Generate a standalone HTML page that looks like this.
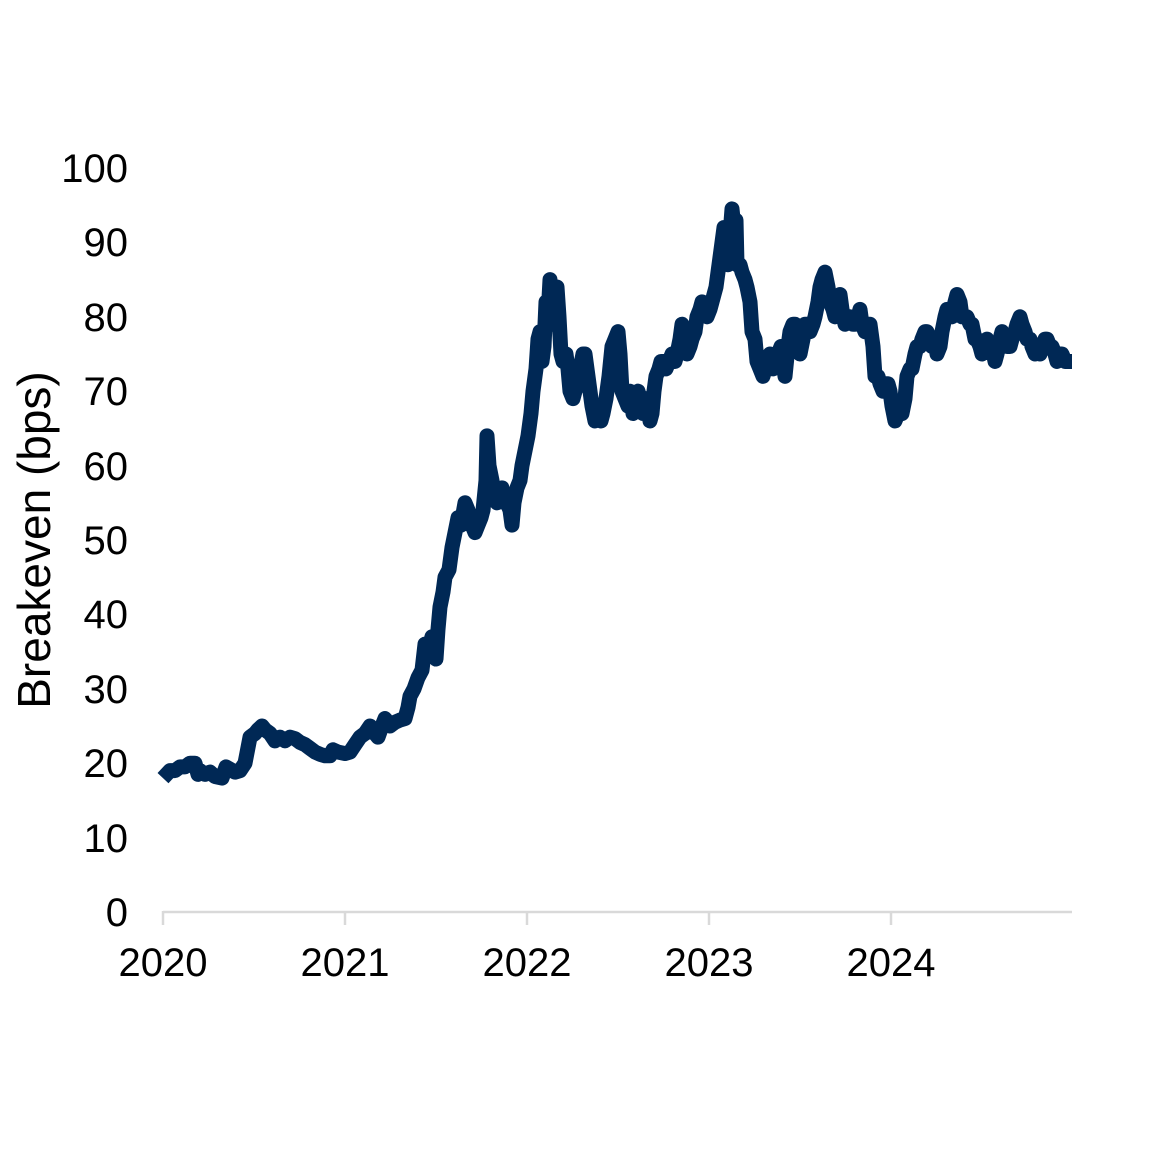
<!DOCTYPE html>
<html><head><meta charset="utf-8"><style>
html,body{margin:0;padding:0;background:#fff;}
svg{display:block;font-family:"Liberation Sans",Arial,sans-serif;}
</style></head><body>
<svg width="1155" height="1155" viewBox="0 0 1155 1155" xmlns="http://www.w3.org/2000/svg">
<rect width="1155" height="1155" fill="#fff"/>
<g font-size="40" fill="#000" text-anchor="end">
<text x="128" y="926">0</text>
<text x="128" y="852">10</text>
<text x="128" y="777">20</text>
<text x="128" y="703">30</text>
<text x="128" y="628">40</text>
<text x="128" y="554">50</text>
<text x="128" y="480">60</text>
<text x="128" y="405">70</text>
<text x="128" y="331">80</text>
<text x="128" y="256">90</text>
<text x="128" y="182">100</text>
</g>
<text transform="translate(50,540) rotate(-90)" font-size="46" text-anchor="middle">Breakeven (bps)</text>
<g font-size="40" text-anchor="middle">
<text x="163" y="976">2020</text>
<text x="345" y="976">2021</text>
<text x="527" y="976">2022</text>
<text x="709" y="976">2023</text>
<text x="891" y="976">2024</text>
</g>
<g stroke="#d9d9d9" stroke-width="2.5" fill="none">
<line x1="163" y1="912" x2="1072" y2="912"/>
<line x1="163" y1="911" x2="163" y2="925"/>
<line x1="345" y1="911" x2="345" y2="925"/>
<line x1="527" y1="911" x2="527" y2="925"/>
<line x1="709" y1="911" x2="709" y2="925"/>
<line x1="891" y1="911" x2="891" y2="925"/>
</g>
<g transform="matrix(1,0,0,-7.44,0,912)">
<polyline vector-effect="non-scaling-stroke" fill="none" stroke="#002855" stroke-width="15" stroke-linejoin="round" stroke-linecap="butt" points="
163,18 170,19 175,19 180,19.5 185,19.5 190,20 195,20 198,18.5 200,19 205,18.5 210,18.8 215,18.2 222,18 226,19.5 230,19.2 235,18.8 240,19 245,20 250,23.5 255,24 258,24.5 262,25 265,24.5 270,24 275,23 280,23.5 285,23 290,23.5 295,23.3 300,22.8 305,22.5 310,22 315,21.5 320,21.2 325,21 330,21 333,21.8 338,21.5 345,21.3 350,21.5 355,22.5 360,23.5 365,24 370,25 375,24 378,23.5 382,25 385,26 390,25 395,25.5 400,25.8 405,26 408,27.5 410,29 414,30 418,31.5 422,32.5 425,36 428,35 432,37 434,35.5 436,34 438,38 440,41 443,43 445,45 449,46 452,49 455,51 458,53 461,52 465,55 468,54 472,52 475,51 478,52 481,53 483,54 486,58 487,64 489,60 492,58 494,56 497,55 500,56 502,57 505,55 507,55 510,54 512,52 514,55 517,57 520,58 522,60 525,62 528,64 531,67 533,70 536,73 538,77 540,78 542,74 544,76 546,82 548,80 550,85 552,81 553,79 555,82 557,84 559,80 561,75 563,74 566,75 568,73 570,70 573,69 575,70 578,71 580,73 583,75 585,75 587,73 590,70 592,68 595,66 598,67 601,66 603,67 606,69 609,72 612,76 615,77 618,78 620,75 622,70 625,69 628,68 630,70 633,67 636,69 638,70 640,69 643,67 646,69 648,68 650,66 652,67 654,70 656,72 659,73 661,74 664,74 666,73 669,74 672,75 675,74 677,75 680,77 682,79 685,77 687,75 690,76 692,77 695,78 697,80 700,81 702,82 705,81 707,80 710,81 712,82 714,83 716,84 718,86 720,88 722,90 724,92 726,89 728,87 730,91 732,94.5 734,92 736,93 737,87 740,87 742,86 745,85 747,84 750,82 752,78 755,77 757,74 760,73 763,72 765,73 768,74 770,75 773,73 775,74 778,75 781,76 783,74 785,72 788,76 790,78 793,79 795,79 798,77 800,75 803,77 805,79 808,79 810,78 813,79 815,80 818,82 820,84 822,85 825,86 828,84 830,82 833,81 835,80 838,82 840,83 842,81 845,79 848,80 850,80 853,79 855,79 858,80 860,81 862,79 865,78 868,79 870,79 873,76 875,72 878,72 880,71 883,70 885,71 888,71 890,70 892,68 895,66 898,67 900,67 902,67 905,69 907,72 910,73 912,73 915,75 917,76 920,76 922,77 925,78 927,78 930,77 932,76 935,77 937,75 940,76 942,78 945,80 947,81 950,81 952,80 955,82 957,83 960,82 962,80 965,80 967,80 970,79 972,79 975,77 977,77 980,76 982,75 985,76 987,77 990,76 992,76 995,74 997,75 1000,77 1002,78 1005,77 1007,76 1010,76 1012,77 1015,78 1017,79 1020,80 1022,79 1025,78 1027,77 1030,77 1032,76 1035,75 1037,76 1040,75 1042,76 1045,77 1047,77 1050,76 1052,76 1055,75 1057,74 1060,75 1062,75 1065,74 1067,74 1070,74 1072,74"/>
</g>
</svg>
</body></html>
